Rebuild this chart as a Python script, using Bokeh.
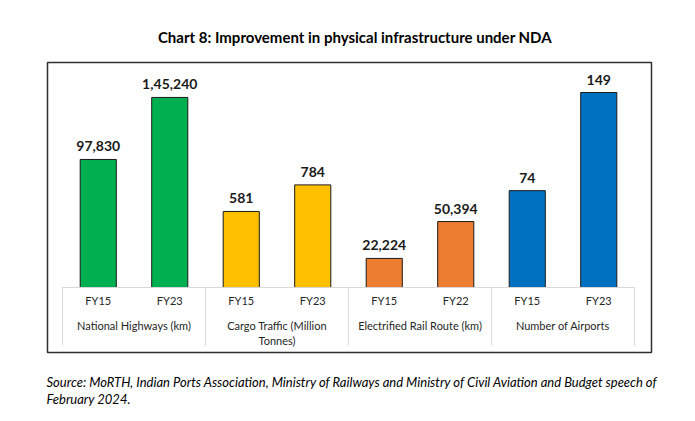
from bokeh.plotting import figure
from bokeh.models import ColumnDataSource, Range1d
from bokeh.core.properties import value
from bokeh.embed import file_html
from bokeh.resources import INLINE

# ---- data ----
title_text = "Chart 8: Improvement in physical infrastructure under NDA"
groups = [["National Highways (km)"], ["Cargo Traffic (Million", "Tonnes)"],
          ["Electrified Rail Route (km)"], ["Number of Airports"]]
years = ["FY15", "FY23", "FY15", "FY23", "FY15", "FY22", "FY15", "FY23"]
values = [97830, 145240, 581, 784, 22224, 50394, 74, 149]
value_labels = ["97,830", "1,45,240", "581", "784", "22,224", "50,394", "74", "149"]
group_scale = [0.01, 1, 0.01, 10]   # per-group display scaling used in the original chart
group_colors = ["#00B050", "#FFC000", "#ED7D31", "#0070C0"]
source_lines = ["Source: MoRTH, Indian Ports Association, Ministry of Railways and Ministry of Civil Aviation and Budget speech of",
                "February 2024."]

FONT = "Lato"

n = len(values)
xs = [i + 0.5 for i in range(n)]
heights = [values[i] * group_scale[i // 2] for i in range(n)]
colors = [group_colors[i // 2] for i in range(n)]

src = ColumnDataSource(dict(x=xs, top=heights, color=colors, lab=value_labels, yr=years))

# frame covers the whole canvas; one x unit = one bar slot, y in scaled units
X0, X1 = -0.8671, 8.7413
Y0, Y1 = -962.8, 2193.0
BOX_L, BOX_R, BOX_B, BOX_T = -0.2098, 8.2378, -496.7, 1719.3

p = figure(width=687, height=413, output_backend="svg", toolbar_location=None,
           x_range=Range1d(X0, X1), y_range=Range1d(Y0, Y1),
           min_border=0)
p.axis.visible = False
p.grid.visible = False
p.outline_line_color = None
p.background_fill_color = "white"
p.border_fill_color = "white"

# chart box
p.quad(left=[BOX_L], right=[BOX_R], bottom=[BOX_B], top=[BOX_T], fill_color=None,
       line_color="#303030", line_width=1.5)

p.vbar(x="x", top="top", bottom=0, width=0.505, color="color", line_color="#1a1a1a",
       line_width=1, source=src)

p.text(x="x", y="top", text="lab", source=src, text_align="center", text_baseline="bottom",
       y_offset=-8, text_font=value(FONT), text_font_style="bold", text_font_size="14px",
       text_color="#1a1a1a")

# category axis lines
p.segment(x0=[0], y0=[0], x1=[n], y1=[0], line_color="#d9d9d9", line_width=1)
gx = list(range(0, n + 1, 2))
p.segment(x0=gx, y0=[0] * len(gx), x1=gx, y1=[-443] * len(gx), line_color="#d9d9d9", line_width=1)

p.text(x="x", y=0, text="yr", source=src, text_align="center", text_baseline="middle",
       y_offset=13, text_font=value(FONT), text_font_size="11px", text_color="#262626")

gl_x, gl_y, gl_t, gl_off = [], [], [], []
for g, lines in enumerate(groups):
    for k, line in enumerate(lines):
        gl_x.append(2 * g + 1)
        gl_y.append(0)
        gl_t.append(line)
        gl_off.append(38 + 15 * k)
p.text(x=gl_x, y=gl_y, text=gl_t, y_offset=gl_off, text_align="center", text_baseline="middle",
       text_font=value(FONT), text_font_size="11px", text_color="#262626")

# title and source
p.text(x=[4.09], y=[BOX_T], text=[title_text], y_offset=-25, text_align="center",
       text_baseline="middle", text_font=value(FONT), text_font_style="bold",
       text_font_size="15px", text_color="black")
p.text(x=[-0.224] * len(source_lines), y=[BOX_B] * len(source_lines), text=source_lines,
       y_offset=[29 + 17 * k for k in range(len(source_lines))], text_align="left",
       text_baseline="middle", text_font=value(FONT), text_font_style="italic",
       text_font_size="13px", text_color="black")

open("out.html", "w").write(file_html(p, INLINE))
